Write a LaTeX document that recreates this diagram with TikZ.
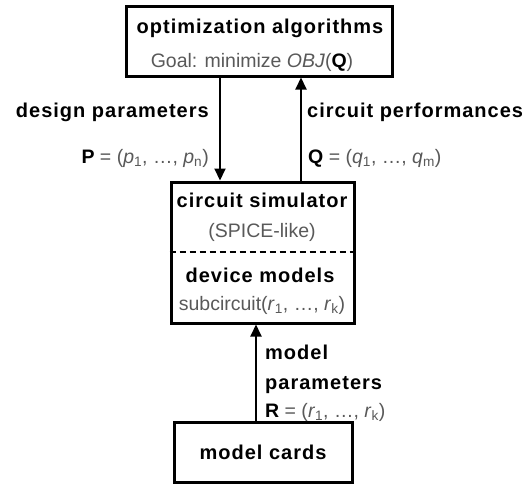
\documentclass[tikz,border=0pt]{standalone}
\usepackage{fontspec}
\setmainfont{Liberation Sans}
\newfontfamily\spacedsans[LetterSpace=5]{Liberation Sans}
\usetikzlibrary{positioning,arrows.meta}

\begin{document}
\begin{tikzpicture}[
    x=1pt, y=-1pt,
    every node/.style={inner sep=0pt, font=\fontsize{19}{22}\selectfont},
    block/.style={draw, line width=3pt},
    head/.style={font=\spacedsans\fontsize{20}{22}\selectfont\bfseries},
    sub/.style={font=\fontsize{19.5}{22}\selectfont, text=black!65},
    flow/.style={line width=2pt, -{Triangle[length=12pt,width=11pt]}}
  ]
    \useasboundingbox (0,0) rectangle (531,485);

    % Blocks
    \node[block, minimum width=266pt, minimum height=70pt] (opt) at (259,41) {};
    \node[block, minimum width=183pt, minimum height=141pt] (sim) at (262.5,252.5) {};
    \node[block, minimum width=178pt, minimum height=60pt] (cards) at (263,452) {};

    % Texts in the blocks
    \node[head] (optname) at (260,28) {optimization algorithms};
    \node[sub]  (goal) at (252,62) {Goal: minimize \textit{OBJ}(\textcolor{black}{\textbf{Q}})};
    \node[head] (simname) at (262,200) {circuit simulator};
    \node[sub]  (spice) at (262,232) {(SPICE-like)};
    \node[head] (devname) at (260,275) {device models};
    \node[sub]  (subckt) at (262,305) {subcircuit(\textit{r}\textsubscript{1}, …, \textit{r}\textsubscript{k})};
    \node[head] (cardname) at (263,452) {model cards};

    % Split between simulator and device models
    \coordinate (cut) at (0,252);
    \draw[line width=1.5pt, dash pattern=on 6pt off 4pt]
      (sim.west |- cut) -- (sim.east |- cut);

    % Connectors
    \coordinate (dn) at (220,0);
    \coordinate (up) at (301,0);
    \coordinate (mp) at (256,0);
    \draw[flow] (opt.south -| dn) -- (sim.north -| dn);
    \draw[flow] (sim.north -| up) -- (opt.south -| up);
    \draw[flow] (cards.north -| mp) -- (sim.south -| mp);

    % Connector labels
    \node[head, anchor=east] (dp) at (209,112) {design parameters};
    \node[sub, anchor=east] (pvec) at (209,158)
      {\textcolor{black}{\textbf{P}} = (\textit{p}\textsubscript{1}, …, \textit{p}\textsubscript{n})};
    \node[head, anchor=west] (cp) at (307,112) {circuit performances};
    \node[sub, anchor=west] (qvec) at (308,158)
      {\textcolor{black}{\textbf{Q}} = (\textit{q}\textsubscript{1}, …, \textit{q}\textsubscript{m})};
    \node[head, anchor=west] (mpar) at (265,352) {model};
    \node[head, anchor=west] (mpar2) at (265,385) {parameters};
    \node[sub, anchor=west] (rvec) at (265,412)
      {\textcolor{black}{\textbf{R}} = (\textit{r}\textsubscript{1}, …, \textit{r}\textsubscript{k})};
  \end{tikzpicture}
\end{document}
